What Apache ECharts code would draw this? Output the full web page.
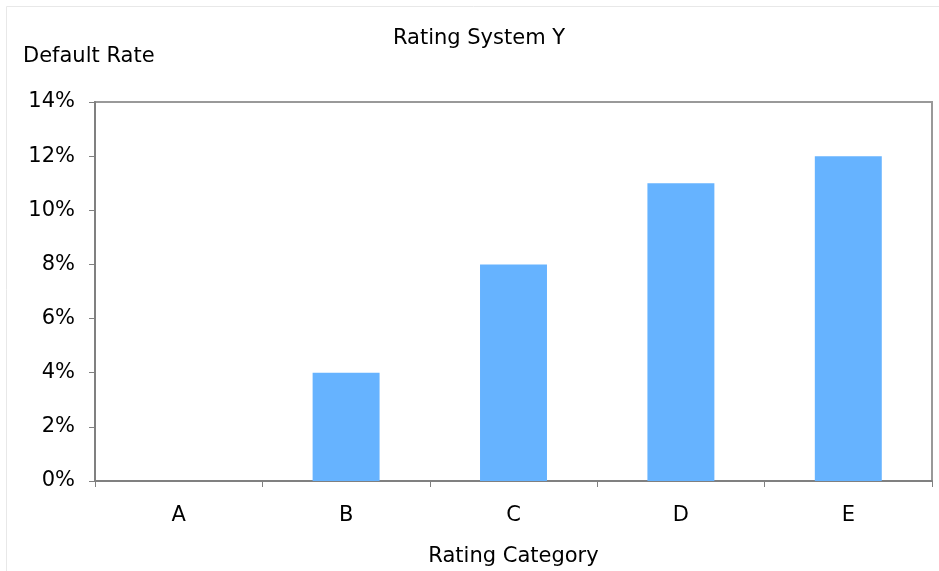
<!DOCTYPE html>
<html>
<head>
<meta charset="utf-8">
<script src="https://cdn.jsdelivr.net/npm/echarts@6/dist/echarts.min.js"></script>
<style>
  html, body { margin: 0; padding: 0; background: #fff; }
  #chart { width: 939px; height: 571px; }
</style>
</head>
<body>
<div id="chart"></div>
<script>
// Rating categories and observed default rates (percent)
const categories = ['A', 'B', 'C', 'D', 'E'];
const defaultRates = [0, 4, 8, 11, 12];
const yTicks = [0, 2, 4, 6, 8, 10, 12, 14];

const FONT = 'DejaVu Sans, Verdana, sans-serif';
const FS = 21;
const chart = echarts.init(document.getElementById('chart'));

chart.setOption({
  animation: false,
  backgroundColor: '#fff',
  title: {
    text: 'Rating System Y',
    left: 479,
    top: 28,
    padding: 0,
    textAlign: 'center',
    textStyle: { fontFamily: FONT, fontSize: FS, fontWeight: 'normal', color: '#000' }
  },
  graphic: [
    {
      type: 'rect',
      shape: { x: 6.5, y: 6.5, width: 940, height: 570 },
      style: { fill: 'none', stroke: '#e8e8e8', lineWidth: 1 }
    },
    {
      type: 'text',
      left: 23,
      top: 46,
      style: { text: 'Default Rate', font: FS + 'px ' + FONT, fill: '#000' }
    }
  ],
  grid: {
    left: 95, right: 7, top: 102, bottom: 90,
    containLabel: false,
    outerBoundsMode: 'none',
    show: true,
    borderColor: '#999',
    borderWidth: 2,
    backgroundColor: 'transparent'
  },
  xAxis: {
    type: 'category',
    data: categories,
    name: 'Rating Category',
    nameLocation: 'middle',
    nameGap: 65,
    nameTextStyle: { fontFamily: FONT, fontSize: FS, color: '#000' },
    axisLine: { lineStyle: { color: '#808080', width: 2 } },
    axisTick: { show: true, alignWithLabel: false, length: 6, lineStyle: { color: '#808080', width: 1 } },
    axisLabel: { fontFamily: FONT, fontSize: FS, color: '#000', margin: 24 },
    splitLine: { show: false }
  },
  yAxis: {
    type: 'value',
    min: 0,
    max: 14,
    interval: 2,
    axisLine: { show: true, lineStyle: { color: '#808080', width: 2 } },
    axisTick: { show: true, length: 6, lineStyle: { color: '#808080', width: 1 } },
    axisLabel: {
      fontFamily: FONT, fontSize: FS, color: '#000', margin: 20,
      formatter: v => (yTicks.includes(v) ? v + '%' : '')
    },
    splitLine: { show: false }
  },
  series: [{
    type: 'bar',
    data: defaultRates,
    barWidth: '40%',
    itemStyle: { color: '#66B3FF' }
  }]
});
</script>
</body>
</html>
